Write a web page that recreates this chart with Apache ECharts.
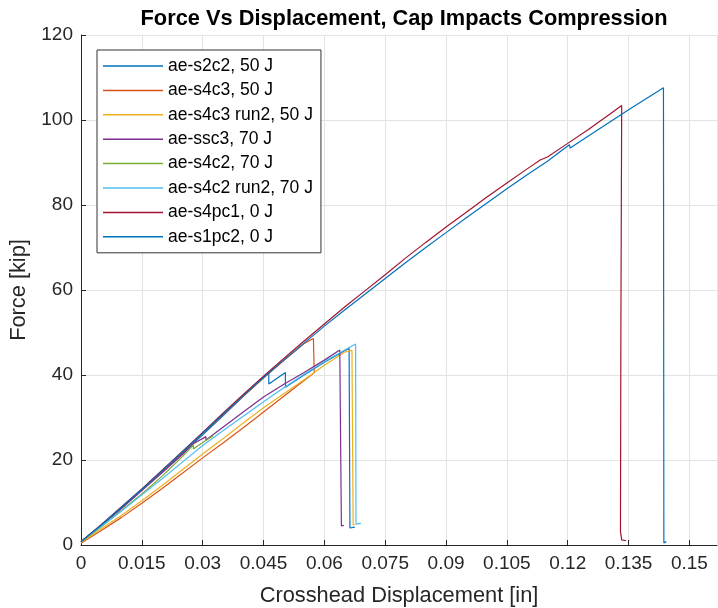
<!DOCTYPE html>
<html>
<head>
<meta charset="utf-8">
<script src="https://cdn.jsdelivr.net/npm/echarts@6/dist/echarts.min.js"></script>
<style>
html,body{margin:0;padding:0;background:#fff;}
#chart{width:718px;height:608px;}
</style>
</head>
<body>
<div id="chart"></div>
<script>
// ---- Data ----
const seriesNames = [
  'ae-s2c2, 50 J', 'ae-s4c3, 50 J', 'ae-s4c3 run2, 50 J', 'ae-ssc3, 70 J',
  'ae-s4c2, 70 J', 'ae-s4c2 run2, 70 J', 'ae-s4pc1, 0 J', 'ae-s1pc2, 0 J'
];
const xTicks = [0, 0.015, 0.03, 0.045, 0.06, 0.075, 0.09, 0.105, 0.12, 0.135, 0.15];
const yTicks = [0, 20, 40, 60, 80, 100, 120];

const s2c2X = [0, 0.005, 0.010, 0.015, 0.020, 0.025, 0.030, 0.035, 0.040, 0.045, 0.0463, 0.0463, 0.0504, 0.0504, 0.055, 0.060, 0.0661, 0.0663, 0.0663, 0.0675];
const s2c2Y = [0.8, 4.7, 8.8, 13.0, 17.3, 21.6, 25.9, 30.4, 35.0, 39.5, 40.7, 37.9, 40.6, 37.1, 40.0, 43.0, 46.3, 46.3, 4.0, 4.2];

const s4c3X = [0, 0.005, 0.010, 0.015, 0.020, 0.025, 0.030, 0.035, 0.040, 0.045, 0.050, 0.055, 0.0573, 0.0575, 0.0575, 0.055, 0.050, 0.045, 0.040, 0.035, 0.030, 0.025, 0.020, 0.015, 0.010, 0.005, 0];
const s4c3Y = [0.7, 4.6, 8.8, 13.0, 17.4, 21.8, 26.2, 30.6, 35.0, 39.3, 43.4, 47.4, 48.6, 48.6, 40.5, 38.7, 35.0, 31.3, 27.6, 24.0, 20.5, 16.9, 13.3, 9.8, 6.5, 3.4, 0.4];

const s4c3r2X = [0, 0.005, 0.010, 0.015, 0.020, 0.025, 0.030, 0.035, 0.040, 0.045, 0.050, 0.055, 0.060, 0.065, 0.0668, 0.0671, 0.0671, 0.0675];
const s4c3r2Y = [0.6, 3.8, 7.0, 10.4, 14.0, 17.7, 21.4, 25.0, 28.7, 32.3, 35.6, 38.9, 42.3, 45.4, 45.8, 45.7, 4.7, 4.9];

const ssc3X = [0, 0.005, 0.010, 0.015, 0.020, 0.025, 0.0277, 0.0308, 0.0308, 0.035, 0.040, 0.045, 0.050, 0.055, 0.060, 0.0638, 0.0642, 0.0642, 0.0648];
const ssc3Y = [0.8, 4.6, 8.6, 12.8, 17.0, 21.3, 23.8, 25.5, 24.7, 27.7, 31.3, 34.8, 37.8, 40.6, 43.5, 45.9, 45.9, 4.5, 4.6];

const s4c2X = [0, 0.005, 0.010, 0.015, 0.020, 0.025, 0.0277, 0.0277, 0.030, 0.0326];
const s4c2Y = [0.7, 4.3, 8.1, 12.0, 16.2, 20.8, 23.5, 22.6, 24.1, 25.7];

const s4c2r2X = [0, 0.005, 0.010, 0.015, 0.020, 0.025, 0.030, 0.035, 0.040, 0.045, 0.050, 0.055, 0.060, 0.065, 0.0677, 0.0678, 0.0678, 0.0690];
const s4c2r2Y = [0.8, 4.4, 8.0, 11.8, 15.6, 19.5, 23.4, 26.9, 30.3, 33.7, 37.0, 40.2, 43.2, 45.9, 47.3, 47.3, 4.9, 5.1];

const s4pc1X = [0, 0.005, 0.010, 0.015, 0.020, 0.025, 0.030, 0.035, 0.040, 0.045, 0.050, 0.055, 0.060, 0.065, 0.070, 0.075, 0.080, 0.085, 0.090, 0.095, 0.100, 0.105, 0.110, 0.1132, 0.1134, 0.115, 0.120, 0.125, 0.130, 0.1333, 0.1331, 0.1330, 0.1333, 0.1344];
const s4pc1Y = [0.8, 4.8, 9.0, 13.2, 17.6, 22.0, 26.5, 31.0, 35.4, 39.7, 43.9, 48.0, 52.0, 56.0, 59.8, 63.6, 67.5, 71.2, 74.8, 78.3, 81.8, 85.2, 88.5, 90.6, 90.2, 91.3, 94.5, 97.7, 101.1, 103.4, 50.0, 3.2, 1.2, 1.0];

const s1pc2X = [0, 0.005, 0.010, 0.015, 0.020, 0.025, 0.030, 0.035, 0.040, 0.045, 0.050, 0.055, 0.060, 0.065, 0.070, 0.075, 0.080, 0.085, 0.090, 0.095, 0.100, 0.105, 0.110, 0.115, 0.1204, 0.1206, 0.125, 0.130, 0.135, 0.140, 0.1436, 0.1437, 0.1443];
const s1pc2Y = [0.8, 4.7, 8.9, 13.1, 17.5, 21.9, 26.3, 30.7, 35.1, 39.4, 43.5, 47.5, 51.5, 55.3, 59.0, 62.7, 66.4, 70.0, 73.5, 77.0, 80.4, 83.8, 87.1, 90.3, 94.2, 93.4, 96.2, 99.3, 102.4, 105.4, 107.6, 0.5, 0.8];

const seriesX = [s2c2X, s4c3X, s4c3r2X, ssc3X, s4c2X, s4c2r2X, s4pc1X, s1pc2X];
const seriesY = [s2c2Y, s4c3Y, s4c3r2Y, ssc3Y, s4c2Y, s4c2r2Y, s4pc1Y, s1pc2Y];
const colors = ['#0072BD', '#D95319', '#EDB120', '#7E2F8E', '#77AC30', '#4DBEEE', '#A2142F', '#0072BD'];

const FONT = "'Liberation Sans', Arial, Helvetica, sans-serif";
const AXC = '#262626';

const chart = echarts.init(document.getElementById('chart'), null, {renderer: 'canvas'});
const series = seriesNames.map((name, i) => ({
  name: name,
  type: 'line',
  data: seriesX[i].map((x, k) => [x, seriesY[i][k]]),
  showSymbol: false,
  symbol: 'none',
  clip: true,
  lineStyle: {color: colors[i], width: 1.2},
  itemStyle: {color: colors[i]},
  emphasis: {disabled: true}
}));

chart.setOption({
  animation: false,
  backgroundColor: '#fff',
  title: {
    text: 'Force Vs Displacement, Cap Impacts Compression',
    left: 399, top: 3, textAlign: 'center',
    textStyle: {fontFamily: FONT, fontSize: 21.8, fontWeight: 'bold', color: '#000'}
  },
  grid: {left: 81, right: 1, top: 35, bottom: 63, containLabel: false, outerBoundsMode: 'none'},
  legend: {
    data: seriesNames,
    orient: 'vertical',
    left: 97, top: 50,
    icon: 'rect',
    itemWidth: 60, itemHeight: 1.5, itemGap: 6.4,
    padding: [7, 8, 7, 6],
    borderColor: '#333', borderWidth: 1, backgroundColor: '#fff',
    textStyle: {fontFamily: FONT, fontSize: 17.5, color: '#000', lineHeight: 18, height: 18},
    selectedMode: false
  },
  xAxis: {
    type: 'value', min: 0, max: 0.1568, interval: 0.015,
    name: 'Crosshead Displacement [in]', nameLocation: 'middle', nameGap: 40,
    nameTextStyle: {fontFamily: FONT, fontSize: 21.8, color: AXC},
    axisLine: {show: true, lineStyle: {color: AXC, width: 1}},
    axisTick: {show: true, inside: true, length: 5, lineStyle: {color: AXC}},
    axisLabel: {fontFamily: FONT, fontSize: 19, color: AXC, margin: 9, showMaxLabel: false,
      formatter: v => String(+v.toFixed(3))},
    splitLine: {show: true, lineStyle: {color: '#e3e3e3', width: 1}}
  },
  yAxis: {
    type: 'value', min: 0, max: 120, interval: 20,
    name: 'Force [kip]', nameLocation: 'middle', nameGap: 47, nameRotate: 90,
    nameTextStyle: {fontFamily: FONT, fontSize: 21.8, color: AXC},
    axisLine: {show: true, lineStyle: {color: AXC, width: 1}},
    axisTick: {show: true, inside: true, length: 5, lineStyle: {color: AXC}},
    axisLabel: {fontFamily: FONT, fontSize: 19, color: AXC, margin: 8},
    splitLine: {show: true, lineStyle: {color: '#e3e3e3', width: 1}}
  },
  series: series
});
</script>
</body>
</html>
